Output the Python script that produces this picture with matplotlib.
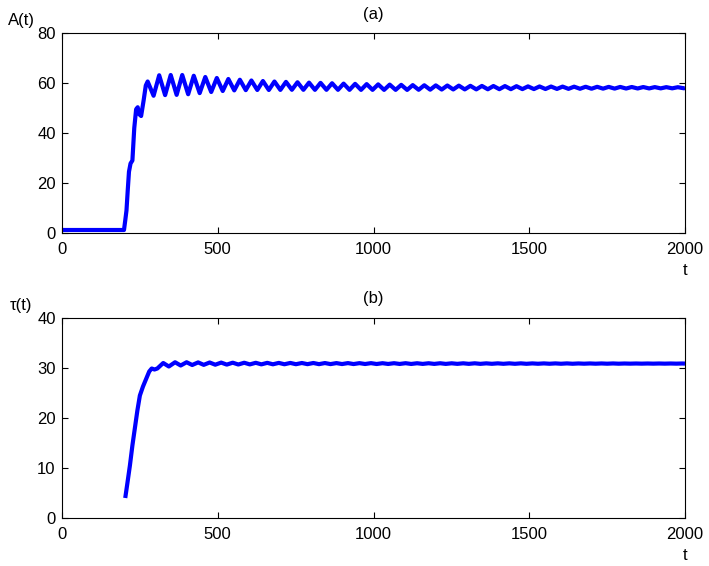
import matplotlib
matplotlib.use("Agg")
import matplotlib.pyplot as plt
import numpy as np

plt.rcParams["font.family"] = ["Liberation Sans", "DejaVu Sans"]

W, H = 709, 566

# --- (a) A(t): rise, then peaks / troughs ---
a_rise_t = [0, 199, 203, 207, 211, 215, 220, 226, 232, 238, 243, 248, 254, 262, 269]
a_rise_v = [1.2, 1.2, 5.0, 9.0, 17.0, 24.5, 27.8, 29.0, 42.0, 49.5, 50.3, 47.5, 46.8, 53.0, 59.0]

a_peak_t = [275, 312, 349, 386, 423, 460, 497, 534, 571, 608, 645, 682, 719, 756,
            793, 830, 867, 904, 941, 978, 1015, 1052, 1089, 1126, 1163, 1200, 1237,
            1274, 1311, 1348, 1385, 1422, 1459, 1496, 1533, 1570, 1607, 1644, 1681,
            1718, 1755, 1792, 1829, 1866, 1903, 1940, 1977]
a_peak_v = [60.6, 63.1, 63.2, 63.2, 62.9, 62.4, 62.0, 61.6, 61.3, 61.0,
            60.8, 60.6, 60.45, 60.3, 60.15, 60.05, 59.9, 59.75, 59.65, 59.55,
            59.45, 59.35, 59.25, 59.15, 59.1, 59.05, 59.0, 58.95, 58.87, 58.83,
            58.8, 58.77, 58.73, 58.65, 58.62, 58.59, 58.56, 58.53, 58.5, 58.48,
            58.45, 58.43, 58.4, 58.38, 58.36, 58.34, 58.32]
a_trough_t = [294, 331, 368, 405, 442, 479, 516, 553, 590, 627, 664, 701, 738, 775,
              812, 849, 886, 923, 960, 997, 1034, 1071, 1108, 1145, 1182, 1219, 1256,
              1293, 1330, 1367, 1404, 1441, 1478, 1515, 1552, 1589, 1626, 1663, 1700,
              1737, 1774, 1811, 1848, 1885, 1922, 1959, 1996]
a_trough_v = [54.9, 55.15, 55.25, 55.5, 55.95, 56.4, 56.8, 57.05, 57.15, 57.2,
              57.2, 57.23, 57.28, 57.27, 57.26, 57.27, 57.27, 57.26, 57.25, 57.26,
              57.25, 57.26, 57.24, 57.28, 57.32, 57.38, 57.42, 57.44, 57.45, 57.49,
              57.52, 57.53, 57.56, 57.57, 57.6, 57.63, 57.66, 57.69, 57.71, 57.74,
              57.76, 57.79, 57.81, 57.83, 57.85, 57.87, 57.89]
a_end = (2000, 58.0)

# --- (b) tau(t) ---
tau_rise_t = [203, 210, 218, 226, 234, 242, 250, 260, 270, 280, 288, 297, 306]
tau_rise_v = [4.0, 7.0, 10.5, 14.5, 18.0, 21.5, 24.5, 26.3, 27.8, 29.3, 29.9, 29.7, 29.9]

tau_peak_t = [325, 363, 400, 437, 474, 511, 548, 585, 622, 659, 696, 733, 770, 807,
              844, 881, 918, 955, 992, 1029, 1066, 1103, 1140, 1177, 1214, 1251, 1288,
              1325, 1362, 1399, 1436, 1473, 1510, 1547, 1584, 1621, 1658, 1695, 1732,
              1769, 1806, 1843, 1880, 1917, 1954, 1991]
tau_peak_v = [31.0, 31.15, 31.15, 31.12, 31.1, 31.08, 31.06, 31.05, 31.04, 31.03,
              31.02, 31.01, 31.0, 31.0, 30.99, 30.98, 30.98, 30.97, 30.97, 30.96,
              30.96, 30.96, 30.95, 30.95, 30.95, 30.94, 30.94, 30.94, 30.93, 30.93,
              30.93, 30.93, 30.92, 30.92, 30.92, 30.92, 30.91, 30.91, 30.91, 30.91,
              30.9, 30.9, 30.9, 30.9, 30.9, 30.9]
tau_trough_t = [343, 381, 418, 455, 492, 529, 566, 603, 640, 677, 714, 751, 788, 825,
                862, 899, 936, 973, 1010, 1047, 1084, 1121, 1158, 1195, 1232, 1269,
                1306, 1343, 1380, 1417, 1454, 1491, 1528, 1565, 1602, 1639, 1676, 1713,
                1750, 1787, 1824, 1861, 1898, 1935, 1972]
tau_trough_v = [30.3, 30.5, 30.6, 30.63, 30.66, 30.68, 30.7, 30.72, 30.73, 30.74,
                30.75, 30.76, 30.77, 30.77, 30.78, 30.79, 30.79, 30.8, 30.8, 30.81,
                30.81, 30.81, 30.82, 30.82, 30.82, 30.83, 30.83, 30.83, 30.84, 30.84,
                30.84, 30.84, 30.85, 30.85, 30.85, 30.85, 30.86, 30.86, 30.86, 30.86,
                30.87, 30.87, 30.87, 30.87, 30.87]
tau_end = (2000, 30.88)

x_ticks = [0, 500, 1000, 1500, 2000]
a_ticks = [0, 20, 40, 60, 80]
tau_ticks = [0, 10, 20, 30, 40]


def merge(rise_t, rise_v, pk_t, pk_v, tr_t, tr_v, end):
    t = list(rise_t) + list(pk_t) + list(tr_t) + [end[0]]
    v = list(rise_v) + list(pk_v) + list(tr_v) + [end[1]]
    order = np.argsort(t, kind="stable")
    return np.asarray(t)[order], np.asarray(v)[order]


def px_axes(fig, left, top, right, bottom):
    return fig.add_axes([left / W, 1 - bottom / H, (right - left) / W, (bottom - top) / H])


def style(ax, yticks, ylim):
    ax.set_xlim(0, 2000)
    ax.set_ylim(*ylim)
    ax.set_xticks(x_ticks)
    ax.set_yticks(yticks)
    ax.tick_params(direction="in", length=4.5, width=0.8, top=True, right=True,
                   labelsize=12)
    ax.tick_params(axis="x", pad=6.5)
    ax.tick_params(axis="y", pad=4.5)
    for s in ax.spines.values():
        s.set_linewidth(0.8)


fig = plt.figure(figsize=(W / 100, H / 100), dpi=100)
fig.patch.set_facecolor("white")

ax1 = px_axes(fig, 62, 33, 685, 233)
t, v = merge(a_rise_t, a_rise_v, a_peak_t, a_peak_v, a_trough_t, a_trough_v, a_end)
ax1.plot(t, v, color="#0000ff", lw=3.0, solid_joinstyle="round", solid_capstyle="butt")
style(ax1, a_ticks, (0, 80))

ax2 = px_axes(fig, 62, 318, 685, 518)
t, v = merge(tau_rise_t, tau_rise_v, tau_peak_t, tau_peak_v, tau_trough_t, tau_trough_v, tau_end)
ax2.plot(t, v, color="#0000ff", lw=3.0, solid_joinstyle="round", solid_capstyle="butt")
style(ax2, tau_ticks, (0, 40))

fs = 12
fig.text(373 / W, 1 - 14 / H, "(a)", ha="center", va="center", fontsize=fs)
fig.text(21 / W, 1 - 20 / H, "A(t)", ha="center", va="center", fontsize=fs)
fig.text(685 / W, 1 - 270 / H, "t", ha="center", va="center", fontsize=fs)

fig.text(373 / W, 1 - 298 / H, "(b)", ha="center", va="center", fontsize=fs)
fig.text(21 / W, 1 - 305 / H, "τ(t)", ha="center", va="center", fontsize=fs)
fig.text(685 / W, 1 - 555 / H, "t", ha="center", va="center", fontsize=fs)

fig.savefig("out.png", dpi=100)
